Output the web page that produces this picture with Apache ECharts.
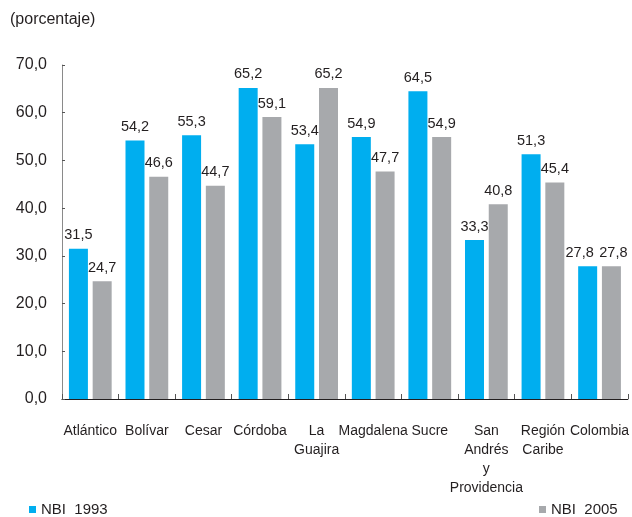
<!DOCTYPE html>
<html>
<head>
<meta charset="utf-8">
<script src="https://cdn.jsdelivr.net/npm/echarts@6/dist/echarts.min.js"></script>
<style>
  html, body { margin: 0; padding: 0; background: #fff; }
  #chart { width: 632px; height: 517px; }
</style>
</head>
<body>
<div id="chart"></div>
<script>
// Departamentos de la Región Caribe: NBI 1993 vs 2005
const categories = [
  'Atlántico', 'Bolívar', 'Cesar', 'Córdoba', 'La\nGuajira', 'Magdalena',
  'Sucre', 'San\nAndrés\ny\nProvidencia', 'Región\nCaribe', 'Colombia'
];
const nbi1993 = [31.5, 54.2, 55.3, 65.2, 53.4, 54.9, 64.5, 33.3, 51.3, 27.8];
const nbi2005 = [24.7, 46.6, 44.7, 59.1, 65.2, 47.7, 54.9, 40.8, 45.4, 27.8];
const yMin = 0, yMax = 70, yStep = 10;

const textColor = '#231f20';
const baseFont = 'Liberation Sans, Arial, Helvetica, sans-serif';
const fmt = v => v.toFixed(1).replace('.', ',');

// Equal-height neighbours (Colombia) get their labels nudged apart
function withLabelNudge(values, dx) {
  return values.map((v, i) =>
    i === values.length - 1 ? { value: v, label: { offset: [dx, 0] } } : v);
}

const chart = echarts.init(document.getElementById('chart'), null, { renderer: 'canvas' });

const valueLabel = {
  show: true,
  position: 'top',
  distance: 6,
  color: textColor,
  fontFamily: baseFont,
  fontSize: 14.5,
  formatter: p => fmt(p.value)
};

chart.setOption({
  animation: false,
  backgroundColor: '#ffffff',
  textStyle: { fontFamily: baseFont },
  graphic: [{
    type: 'text',
    left: 10,
    top: 12,
    style: { text: '(porcentaje)', fill: textColor, font: '16px ' + baseFont }
  }],
  legend: [
    {
      data: ['NBI  1993'],
      left: 24, top: 497,
      icon: 'rect', itemWidth: 7, itemHeight: 7, itemGap: 8,
      textStyle: { color: textColor, fontSize: 15, fontFamily: baseFont }
    },
    {
      data: ['NBI  2005'],
      left: 534, top: 497,
      icon: 'rect', itemWidth: 7, itemHeight: 7, itemGap: 8,
      textStyle: { color: textColor, fontSize: 15, fontFamily: baseFont }
    }
  ],
  grid: { left: 62, right: 2, top: 65, height: 334, containLabel: false },
  xAxis: {
    type: 'category',
    data: categories,
    axisLine: { lineStyle: { color: '#231f20', width: 1.2 } },
    axisTick: { show: true, inside: true, length: 5, lineStyle: { color: '#555' } },
    axisLabel: {
      color: textColor, fontFamily: baseFont, fontSize: 14,
      margin: 23, lineHeight: 19, interval: 0
    }
  },
  yAxis: {
    type: 'value',
    min: yMin, max: yMax, interval: yStep,
    axisLine: { show: true, lineStyle: { color: '#8a8a8a' } },
    axisTick: { show: true, inside: true, length: 3, lineStyle: { color: '#555' } },
    splitLine: { show: false },
    axisLabel: {
      color: textColor, fontFamily: baseFont, fontSize: 16, margin: 15,
      formatter: v => fmt(v)
    }
  },
  series: [
    {
      name: 'NBI  1993',
      type: 'bar',
      data: withLabelNudge(nbi1993, -8),
      barWidth: 19,
      barGap: '25%',
      itemStyle: { color: '#00aeef' },
      label: valueLabel
    },
    {
      name: 'NBI  2005',
      type: 'bar',
      data: withLabelNudge(nbi2005, 2),
      barWidth: 19,
      barGap: '25%',
      itemStyle: { color: '#a7a9ac' },
      label: valueLabel
    }
  ]
});
</script>
</body>
</html>
